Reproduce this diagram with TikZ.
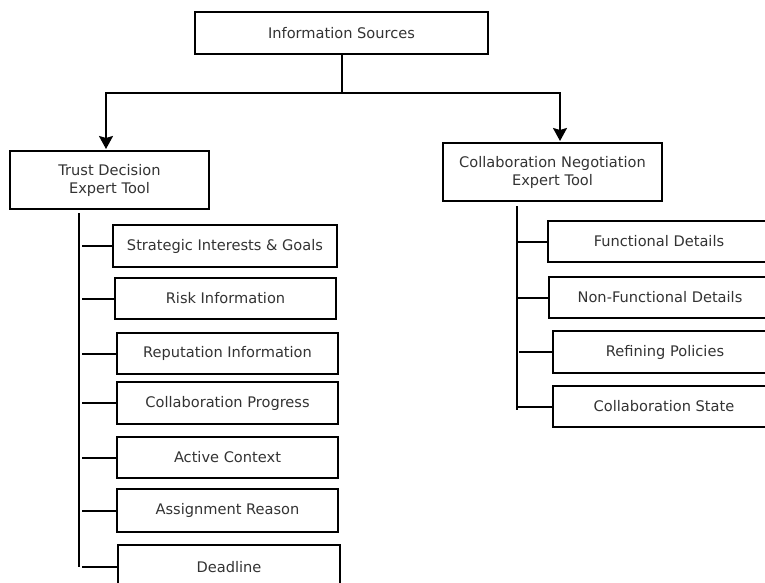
\documentclass[tikz,border=0pt]{standalone}
\usepackage{fontspec}
\setmainfont{DejaVu Sans}
\usetikzlibrary{arrows.meta}
\begin{document}
\begin{tikzpicture}[x=1pt,y=-1pt,
  every node/.style={font=\fontsize{14.6}{18}\selectfont, text=black!80},
  box/.style={draw=black, line width=2pt, inner sep=0pt, align=center},
  link/.style={draw=black, line width=2pt},
  flow/.style={link, -{Stealth[length=13pt,width=14pt,inset=2pt]}, shorten >=1pt}]
\useasboundingbox (0,0) rectangle (765,583);
\clip (0,0) rectangle (765,583);
\fill[white] (0,0) rectangle (765,583);

% top level
\node[box, minimum width=293, minimum height=42] (src) at (341.5,33) {Information Sources};
\node[box, minimum width=199, minimum height=58] (trust) at (109.5,180) {Trust Decision\\Expert Tool};
\node[box, minimum width=219, minimum height=58] (cnet) at (552.5,172) {Collaboration Negotiation\\Expert Tool};

% distribution bus
\coordinate (busL) at (106,93);
\coordinate (busR) at (560,93);
\draw[link] (src.south) -- (src.south |- busL);
\draw[link, line cap=rect] (busL) -- (busR);
\draw[flow] (busL) -- (trust.north -| busL);
\draw[flow] (busR) -- (cnet.north -| busR);

% trust decision inputs
\node[box, minimum width=224, minimum height=42] (s1) at (225,246) {Strategic Interests \& Goals};
\node[box, minimum width=221, minimum height=41] (s2) at (225.5,298.5) {Risk Information};
\node[box, minimum width=221, minimum height=41] (s3) at (227.5,353.5) {Reputation Information};
\node[box, minimum width=221, minimum height=42] (s4) at (227.5,403) {Collaboration Progress};
\node[box, minimum width=221, minimum height=41] (s5) at (227.5,457.5) {Active Context};
\node[box, minimum width=221, minimum height=43] (s6) at (227.5,510.5) {Assignment Reason};
\node[box, minimum width=222, minimum height=44] (s7) at (229,567) {Deadline};

\coordinate (tl0) at (79,213);
\coordinate (tl1) at (79,567);
\coordinate (stubL) at (82,0);
\draw[link] (tl0) -- (tl1);
\foreach \n in {s1,s2,s3,s4,s5,s6,s7}
  \draw[link] (\n.west) -- (\n.west -| stubL);

% negotiation inputs
\node[box, minimum width=222, minimum height=41] (r1) at (659,241.5) {Functional Details};
\node[box, minimum width=222, minimum height=41] (r2) at (660,297.5) {Non-Functional Details};
\node[box, minimum width=224, minimum height=42] (r3) at (665,352) {Refining Policies};
\node[box, minimum width=222, minimum height=41] (r4) at (664,406.5) {Collaboration State};

\coordinate (tr0) at (517,206);
\coordinate (tr1) at (517,410);
\coordinate (stubR) at (517,0);
\draw[link] (tr0) -- (tr1);
\foreach \n in {r1,r2,r4}
  \draw[link] (\n.west) -- (\n.west -| stubR);
\draw[link] (r3.west) -- ++(-33,0);
\end{tikzpicture}
\end{document}
